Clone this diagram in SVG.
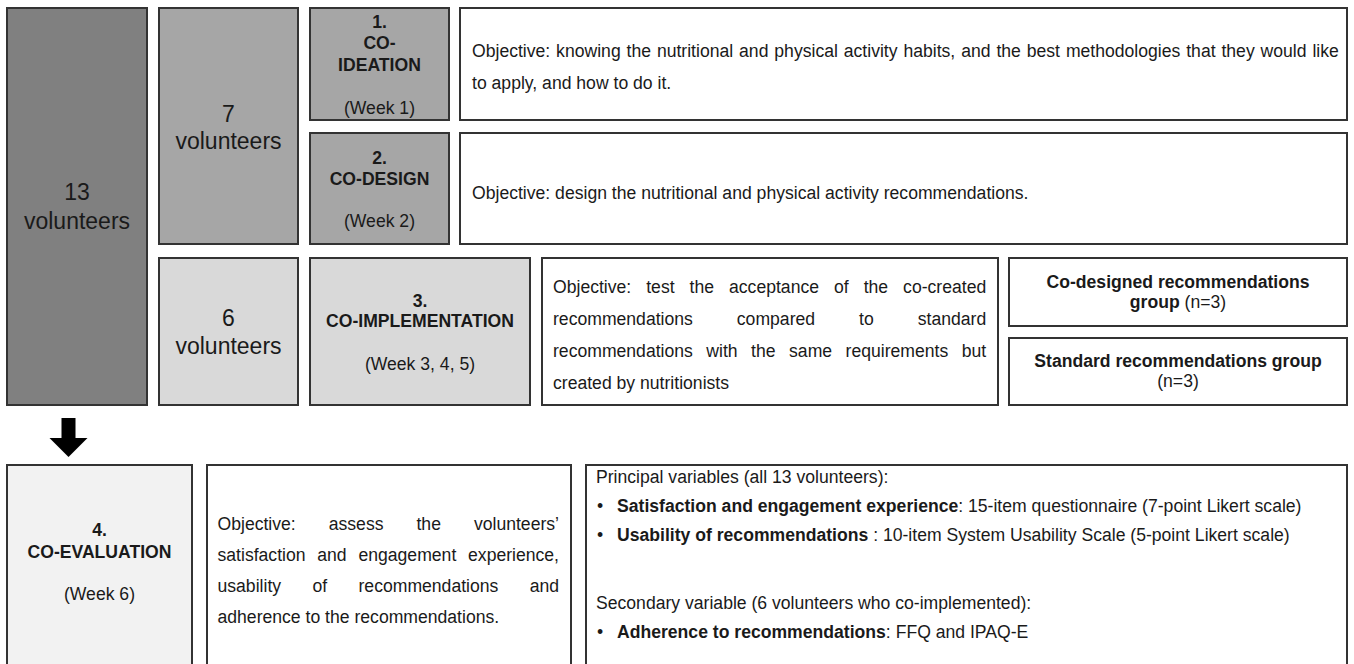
<svg xmlns="http://www.w3.org/2000/svg" width="1354" height="664" viewBox="0 0 1354 664">
<style>
  .box { stroke: #333333; stroke-width: 2; }
  .d1 { fill: #808080; }
  .d2 { fill: #a6a6a6; }
  .d3 { fill: #d9d9d9; }
  .d4 { fill: #f2f2f2; }
  .w { fill: #ffffff; }
  text { font-family: "Liberation Sans", Arial, sans-serif; fill: #1a1a1a; font-size: 17.6px; }
  .big { font-size: 23px; text-anchor: middle; }
  .c { text-anchor: middle; }
  .b { font-weight: bold; }
</style>
<rect width="1354" height="664" fill="#ffffff"/>

<g id="n13">
  <rect class="box d1" x="7" y="8" width="140" height="397"/>
  <text class="big" x="77" y="200">13</text>
  <text class="big" x="77" y="229">volunteers</text>
</g>
<g id="n7">
  <rect class="box d2" x="159" y="8" width="139" height="236"/>
  <text class="big" x="228.5" y="122">7</text>
  <text class="big" x="228.5" y="149">volunteers</text>
</g>
<g id="n6">
  <rect class="box d3" x="159" y="258" width="139" height="147"/>
  <text class="big" x="228.5" y="326">6</text>
  <text class="big" x="228.5" y="354">volunteers</text>
</g>
<g id="coideation">
  <rect class="box d2" x="310" y="8" width="139" height="112"/>
  <text class="c b" x="379.5" y="28">1.</text>
  <text class="c b" x="379.5" y="49">CO-</text>
  <text class="c b" x="379.5" y="71">IDEATION</text>
  <text class="c" x="379.5" y="114">(Week 1)</text>
</g>
<g id="codesign">
  <rect class="box d2" x="310" y="133" width="139" height="111"/>
  <text class="c b" x="379.5" y="164">2.</text>
  <text class="c b" x="379.5" y="185">CO-DESIGN</text>
  <text class="c" x="379.5" y="227">(Week 2)</text>
</g>
<g id="coimplementation">
  <rect class="box d3" x="310" y="258" width="220" height="147"/>
  <text class="c b" x="420" y="307">3.</text>
  <text class="c b" x="420" y="327">CO-IMPLEMENTATION</text>
  <text class="c" x="420" y="370">(Week 3, 4, 5)</text>
</g>
<g id="coevaluation">
  <rect class="box d4" x="7" y="465" width="185" height="202"/>
  <text class="c b" x="99.5" y="536">4.</text>
  <text class="c b" x="99.5" y="558">CO-EVALUATION</text>
  <text class="c" x="99.5" y="600">(Week 6)</text>
</g>
<g id="obj1">
  <rect class="box w" x="460" y="8" width="887" height="112"/>
  <text x="472" y="57" word-spacing="1">Objective: knowing the nutritional and physical activity habits, and the best methodologies that they would like</text>
  <text x="472" y="89">to apply, and how to do it.</text>
</g>
<g id="obj2">
  <rect class="box w" x="460" y="133" width="887" height="111"/>
  <text x="472" y="199">Objective: design the nutritional and physical activity recommendations.</text>
</g>
<g id="obj3">
  <rect class="box w" x="542" y="258" width="456" height="147"/>
  <text x="553" y="293" word-spacing="10.1">Objective: test the acceptance of the co-created</text>
  <text x="553" y="325" word-spacing="39.1">recommendations compared to standard</text>
  <text x="553" y="357" word-spacing="8.6">recommendations with the same requirements but</text>
  <text x="553" y="389">created by nutritionists</text>
</g>
<g id="group-codesigned">
  <rect class="box w" x="1009" y="258" width="338" height="68"/>
  <text class="c b" x="1178" y="288">Co-designed recommendations</text>
  <text class="c" x="1178" y="308"><tspan class="b">group</tspan> (n=3)</text>
</g>
<g id="group-standard">
  <rect class="box w" x="1009" y="338" width="338" height="67"/>
  <text class="c b" x="1178" y="367">Standard recommendations group</text>
  <text class="c" x="1178" y="387">(n=3)</text>
</g>
<g id="obj4">
  <rect class="box w" x="207" y="465" width="364" height="202"/>
  <text x="217.5" y="530" word-spacing="28.1">Objective: assess the volunteers’</text>
  <text x="217.5" y="561" word-spacing="6.9">satisfaction and engagement experience,</text>
  <text x="217.5" y="592" word-spacing="26.5">usability of recommendations and</text>
  <text x="217.5" y="623">adherence to the recommendations.</text>
</g>
<g id="variables">
  <rect class="box w" x="586" y="465" width="761" height="202"/>
  <text x="596" y="483">Principal variables (all 13 volunteers):</text>
  <text x="597" y="512">•</text>
  <text x="617" y="512"><tspan class="b">Satisfaction and engagement experience</tspan>: 15-item questionnaire (7-point Likert scale)</text>
  <text x="597" y="541">•</text>
  <text x="617" y="541"><tspan class="b">Usability of recommendations</tspan> : 10-item System Usability Scale (5-point Likert scale)</text>
  <text x="596" y="609">Secondary variable (6 volunteers who co-implemented):</text>
  <text x="597" y="638">•</text>
  <text x="617" y="638"><tspan class="b">Adherence to recommendations</tspan>: FFQ and IPAQ-E</text>
</g>
<g id="connectors">
  <polygon points="61.5,418 75.5,418 75.5,438 87.5,438 68.5,457 49.5,438 61.5,438" fill="#000000"/>
</g>
</svg>
